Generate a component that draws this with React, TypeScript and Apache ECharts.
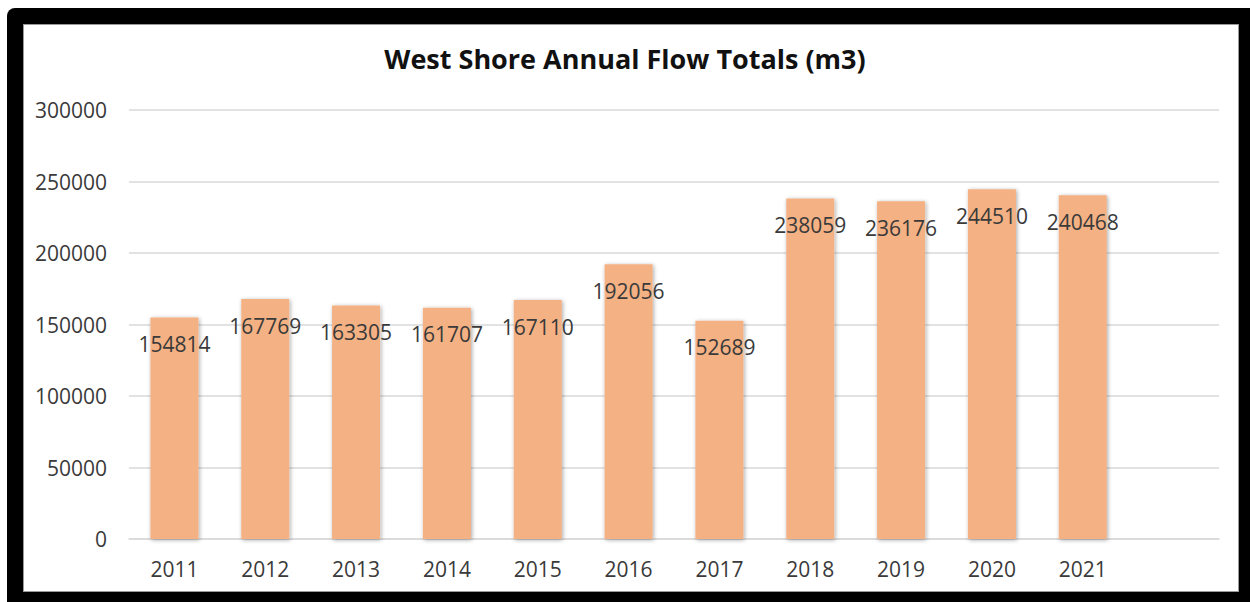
import React, { useEffect, useRef } from "react";
import * as echarts from "echarts";

const titleText = "West Shore Annual Flow Totals (m3)";
const years = ["2011", "2012", "2013", "2014", "2015", "2016", "2017", "2018", "2019", "2020", "2021", ""];
const flowTotals: (number | null)[] = [154814, 167769, 163305, 161707, 167110, 192056, 152689, 238059, 236176, 244510, 240468, null];
const yMin = 0;
const yMax = 300000;
const yStep = 50000;

export default function App() {
  const ref = useRef<HTMLDivElement>(null);
  useEffect(() => {
    if (!ref.current) return;
    const chart = echarts.init(ref.current, null, { renderer: "svg" });
    chart.setOption({
      animation: false,
      backgroundColor: "transparent",
      title: {
        text: titleText,
        left: "center",
        top: 40,
        textStyle: { fontFamily: "Open Sans", fontWeight: "bold", fontSize: 27, color: "#111" },
      },
      grid: { left: 129, right: 31, top: 110, bottom: 63, containLabel: false },
      xAxis: {
        type: "category",
        data: years,
        axisTick: { show: false },
        axisLine: { lineStyle: { color: "#d9d9d9", width: 1.5 } },
        axisLabel: { margin: 19, fontFamily: "Open Sans", fontSize: 21, color: "#3a3a3a" },
      },
      yAxis: {
        type: "value",
        min: yMin,
        max: yMax,
        interval: yStep,
        axisLine: { show: false },
        axisTick: { show: false },
        splitLine: { lineStyle: { color: "#d9d9d9", width: 1.5 } },
        axisLabel: {
          margin: 22,
          fontFamily: "Open Sans",
          fontSize: 21,
          color: "#3a3a3a",
          formatter: (v: number) => String(v),
        },
      },
      series: [
        {
          type: "bar",
          data: flowTotals,
          barWidth: 48,
          itemStyle: {
            color: "#F4B183",
            shadowBlur: 4,
            shadowColor: "rgba(0,0,0,0.35)",
            shadowOffsetX: 1,
            shadowOffsetY: 1,
          },
          label: {
            show: true,
            position: "insideTop",
            distance: 16,
            fontFamily: "Open Sans",
            fontSize: 21,
            color: "#3a3a3a",
          },
        },
      ],
    });
    return () => chart.dispose();
  }, []);

  return (
    <div style={{ position: "fixed", left: 0, top: 0, width: 1250, height: 602, background: "#fff" }}>
      <div
        style={{
          position: "absolute",
          left: 7,
          top: 8,
          width: 1243,
          height: 594,
          background: "#000",
          borderTopLeftRadius: 8,
        }}
      />
      <div
        style={{
          position: "absolute",
          left: 23,
          top: 24,
          width: 1216,
          height: 568,
          background: "#fff",
          boxShadow: "inset 0 0 0 1px #9a9a9a",
        }}
      />
      <div ref={ref} style={{ position: "absolute", left: 0, top: 0, width: 1250, height: 602 }} />
    </div>
  );
}
